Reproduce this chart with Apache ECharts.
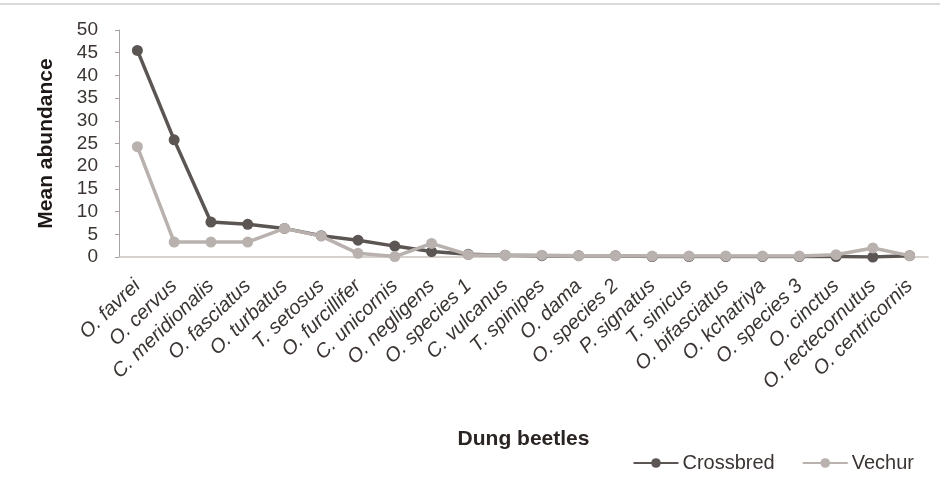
<!DOCTYPE html>
<html>
<head>
<meta charset="utf-8">
<script src="https://cdn.jsdelivr.net/npm/echarts@6/dist/echarts.min.js"></script>
<style>
html,body{margin:0;padding:0;background:#fff;}
#c{width:947px;height:499px;}
</style>
</head>
<body>
<div id="c"></div>
<script>
const categories = ["O. favrei","O. cervus","C. meridionalis","O. fasciatus","O. turbatus","T. setosus","O. furcillifer","C. unicornis","O. negligens","O. species 1","C. vulcanus","T. spinipes","O. dama","O. species 2","P. signatus","T. sinicus","O. bifasciatus","O. kchatriya","O. species 3","O. cinctus","O. rectecornutus","O. centricornis"];
const crossbred = [45.5,25.8,7.7,7.2,6.3,4.7,3.7,2.4,1.2,0.6,0.4,0.3,0.3,0.3,0.1,0.1,0.1,0.1,0.1,0.1,0.0,0.3];
const vechur = [24.3,3.3,3.3,3.3,6.3,4.6,0.8,0.1,3.0,0.5,0.4,0.4,0.3,0.3,0.2,0.2,0.2,0.2,0.2,0.5,2.0,0.3];
const yTicks = {min:0, max:50, interval:5};

const font = "'Liberation Sans', Arial, sans-serif";
const chart = echarts.init(document.getElementById('c'));
chart.setOption({
  animation:false,
  backgroundColor:'#fff',
  textStyle:{fontFamily:font},
  grid:{left:119, right:19, top:30, bottom:242, containLabel:false},
  graphic:[{type:'line', shape:{x1:0,y1:4,x2:940,y2:4}, style:{stroke:'#d9d9d9', lineWidth:2}}],
  legend:{
    right:28, bottom:21, itemWidth:45, itemHeight:12, itemGap:27,
    textStyle:{fontFamily:font, fontSize:20, color:'#3a3432', padding:[0,0,0,-1]},
    data:['Crossbred','Vechur']
  },
  xAxis:{
    type:'category', data:categories, boundaryGap:true,
    name:'Dung beetles', nameLocation:'middle', nameGap:172,
    nameTextStyle:{fontFamily:font, fontSize:21, fontWeight:'bold', color:'#2a2422'},
    axisLine:{lineStyle:{color:'#c8c2bf', width:1.5}},
    axisTick:{show:false},
    axisLabel:{rotate:44, interval:0, fontSize:20, fontStyle:'italic', color:'#3a3432', margin:26, fontFamily:font}
  },
  yAxis:{
    type:'value', min:yTicks.min, max:yTicks.max, interval:yTicks.interval,
    name:'Mean abundance', nameLocation:'middle', nameGap:62, nameRotate:90,
    nameTextStyle:{fontFamily:font, fontSize:21, fontWeight:'bold', color:'#1e1816'},
    axisLine:{show:true, lineStyle:{color:'#a8a2a0', width:1}},
    axisTick:{show:true, length:4, lineStyle:{color:'#a8a2a0'}},
    splitLine:{show:false},
    axisLabel:{fontSize:19, color:'#3a3432', margin:21, fontFamily:font}
  },
  series:[
    {name:'Crossbred', type:'line', data:crossbred, symbol:'circle', symbolSize:11,
     lineStyle:{color:'#5b5553', width:3.5}, itemStyle:{color:'#5b5553'}, z:2},
    {name:'Vechur', type:'line', data:vechur, symbol:'circle', symbolSize:11,
     lineStyle:{color:'#b9b1ae', width:3.5}, itemStyle:{color:'#b9b1ae'}, z:3}
  ]
});
</script>
</body>
</html>
